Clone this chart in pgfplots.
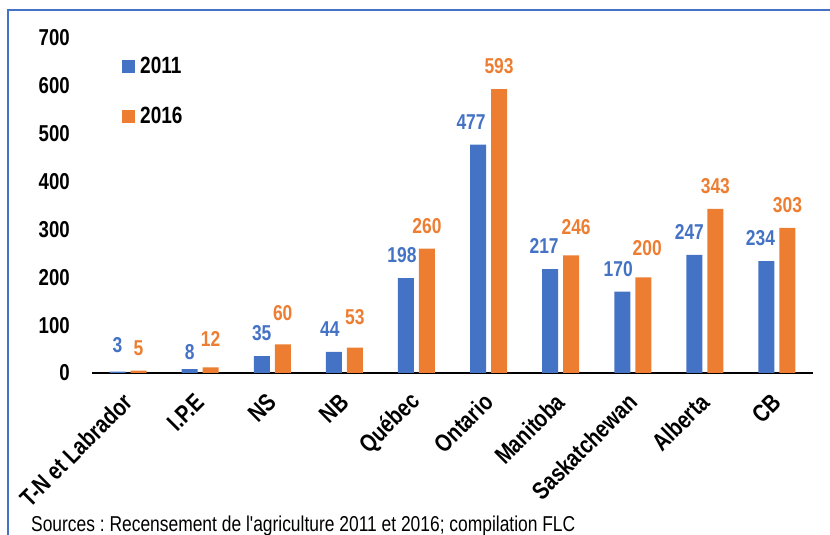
\documentclass[border=0pt]{standalone}
\usepackage{pgfplots}
\usepackage{pgfplotstable}
\pgfplotsset{compat=1.18}
\usepackage{fontspec}
\setmainfont{Liberation Sans}
\newfontfamily\cf[FakeStretch=0.81]{Liberation Sans}
\definecolor{cA}{HTML}{4472C4}
\definecolor{cB}{HTML}{ED7D31}
\frenchspacing
\pgfplotstableread{
x y dx dy
0 3 0 4
1 8 0 -6
2 35 0 0
3 44 -4 0
4 198 -4 0
5 477 -7 0
6 217 -6 0
7 170 -4 0
8 247 -5 0
9 234 -6 0
}\dataA
\pgfplotstableread{
x y dx dy
0 5 0 0
1 12 0 6
2 60 0 8
3 53 0 8
4 260 0 0
5 593 0 0
6 246 5 5
7 200 4 6
8 343 0 0
9 303 0 0
}\dataB
\begin{document}
\begin{tikzpicture}
\begin{axis}[
  at={(92pt,162pt)}, anchor=south west,
  scale only axis, width=721pt, height=335pt,
  ybar=5pt, bar width=16pt,
  xmin=-0.5, xmax=9.5, ymin=0, ymax=700,
  xtick={0,...,9},
  xticklabels={T-N et Labrador, I.P.E, NS, NB, Québec, Ontario, Manitoba, Saskatchewan, Alberta, CB},
  ytick={0,100,...,700},
  axis x line*=bottom, axis y line*=left,
  x axis line style={black, line width=1.6pt, -},
  y axis line style={draw=none},
  major tick length=0pt,
  tick style={draw=none},
  /pgf/number format/assume math mode=true,
  yticklabel style={font=\cf\bfseries\fontsize{23}{27}\selectfont, inner sep=0pt, anchor=east, xshift=-22pt},
  xticklabel style={yshift=-25pt, anchor=east, rotate=45, inner sep=0pt, font=\cf\bfseries\fontsize{24.5}{28}\selectfont},
  clip=false,
  nodes near coords,
  point meta=explicit,
  visualization depends on={\thisrow{dx} \as \dx},
  visualization depends on={\thisrow{dy} \as \dy},
  every node near coord/.append style={font=\cf\bfseries\fontsize{21.5}{25}\selectfont, anchor=south, inner sep=0pt, xshift=\dx pt, yshift=15pt+\dy pt},
  legend image code/.code={\fill[#1] (0pt,-6.5pt) rectangle (13pt,6.5pt);},
  legend style={at={(0.0416,0.943)}, anchor=north west, draw=none, fill=none, inner sep=0pt,
    row sep=32pt, font=\cf\bfseries\fontsize{23.5}{27}\selectfont,
    nodes={inner sep=0pt},
    /tikz/every odd column/.append style={column sep=5pt}},
  legend cell align=left,
]
\addplot[fill=cA, draw=none, every node near coord/.append style={text=cA}] table[x=x, y=y, meta=y] {\dataA};
\addplot[fill=cB, draw=none, every node near coord/.append style={text=cB}] table[x=x, y=y, meta=y] {\dataB};
\legend{2011,2016}
\end{axis}
\draw[cA, line width=2pt] (8pt,-20pt) -- (8pt,525pt) -- (850pt,525pt);
\node[anchor=base west, inner sep=0pt, font=\cf\fontsize{21.5}{25}\selectfont] at (31pt,3.5pt)
  {Sources : Recensement de l'agriculture 2011 et 2016; compilation FLC};
\pgfresetboundingbox
\path[use as bounding box] (0pt,0pt) rectangle (830pt,535pt);
\end{tikzpicture}
\end{document}
